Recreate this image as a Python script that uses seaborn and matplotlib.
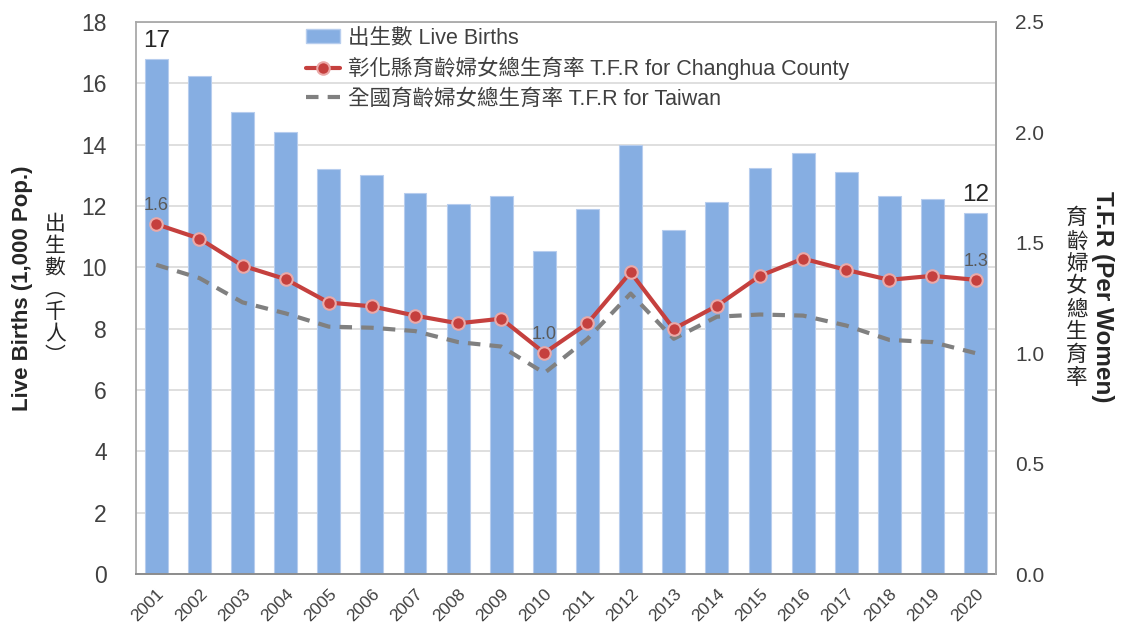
import numpy as np
import pandas as pd
import matplotlib.pyplot as plt
import seaborn as sns
from matplotlib.patches import Patch
from matplotlib.lines import Line2D

# Data
years = [str(y) for y in range(2001, 2021)]
births = [16.79, 16.24, 15.06, 14.41, 13.20, 13.01, 12.43, 12.06, 12.33, 10.53,
          11.90, 13.99, 11.22, 12.12, 13.24, 13.73, 13.10, 12.32, 12.24, 11.77]
tfr_changhua = [1.584, 1.519, 1.396, 1.335, 1.229, 1.212, 1.170, 1.135, 1.156, 1.001,
                1.135, 1.366, 1.110, 1.214, 1.350, 1.428, 1.377, 1.332, 1.350, 1.332]
tfr_taiwan = [1.40, 1.34, 1.23, 1.18, 1.12, 1.115, 1.10, 1.05, 1.03, 0.91,
              1.065, 1.27, 1.065, 1.165, 1.175, 1.17, 1.125, 1.06, 1.05, 1.00]
left_ticks = [0, 2, 4, 6, 8, 10, 12, 14, 16, 18]
right_ticks = [0.0, 0.5, 1.0, 1.5, 2.0, 2.5]

df = pd.DataFrame({"year": years, "births": births,
                   "chc": tfr_changhua, "tw": tfr_taiwan})
df["pos"] = np.arange(len(df))

sns.set_theme(style="white")
plt.rcParams["font.family"] = ["Liberation Sans", "Noto Sans CJK TC", "DejaVu Sans"]

bar_color = "#86AEE2"
red = "#C5403E"
gray = "#808080"
txt = "#404040"
spine = "#A6A6A6"

fig = plt.figure(figsize=(11.24, 6.25), dpi=100)
ax = fig.add_axes([0.121, 0.0816, 0.765, 0.8834])

sns.barplot(data=df, x="year", y="births", color=bar_color, saturation=1,
            width=0.53, edgecolor="#B7CDEE", linewidth=0.8, ax=ax)
ax.set_ylim(0, 18)
ax.set_yticks(left_ticks)
ax.yaxis.grid(True, color="#D9D9D9", linewidth=1.2)
ax.set_axisbelow(True)
ax.set_xlabel("")
ax.set_ylabel("")
ax.tick_params(axis="y", labelsize=16.5, labelcolor=txt, length=0, pad=21)
ax.tick_params(axis="x", labelsize=12.5, labelcolor=txt, length=0, pad=9)
plt.setp(ax.get_xticklabels(), rotation=45, ha="right", rotation_mode="anchor")
for s in ["left", "right", "top"]:
    ax.spines[s].set_color(spine)
ax.spines["bottom"].set_color("#8C8C8C")
ax.spines["bottom"].set_linewidth(1.4)

ax2 = ax.twinx()
sns.lineplot(data=df, x="pos", y="tw", color=gray, linewidth=3,
             linestyle=(0, (3, 2.2)), ax=ax2)
sns.lineplot(data=df, x="pos", y="chc", color=red, linewidth=3, marker="o",
             markersize=9, markerfacecolor=red, markeredgecolor="#EBA9A8",
             markeredgewidth=1.5, ax=ax2)
ax2.set_ylim(0, 2.5)
ax2.set_yticks(right_ticks)
ax2.set_yticklabels([f"{t:.1f}" for t in right_ticks])
ax2.set_xlabel("")
ax2.set_ylabel("")
ax2.tick_params(axis="y", labelsize=15, labelcolor=txt, length=0, pad=14)
ax2.spines["right"].set_color(spine)
for s in ["left", "top", "bottom"]:
    ax2.spines[s].set_visible(False)
ax.set_xlim(-0.47, len(df) - 0.53)

# Value labels
last = len(df) - 1
for i in [0, last]:
    ax.annotate(f"{df.births[i]:.0f}", (i, df.births[i]), xytext=(0, 5),
                textcoords="offset points", ha="center", va="bottom",
                fontsize=17.5, color="#262626")
for i in [0, 9, last]:
    ax2.annotate(f"{df.chc[i]:.1f}", (i, df.chc[i]), xytext=(0, 7),
                 textcoords="offset points", ha="center", va="bottom",
                 fontsize=13, color="#595959")

# Legend
handles = [
    Patch(facecolor=bar_color, edgecolor="#B7CDEE"),
    Line2D([], [], color=red, linewidth=3, marker="o", markersize=9,
           markerfacecolor=red, markeredgecolor="#EBA9A8", markeredgewidth=1.5),
    Line2D([], [], color=gray, linewidth=3, linestyle=(0, (3, 2.2))),
]
labels = ["出生數 Live Births",
          "彰化縣育齡婦女總生育率 T.F.R for Changhua County",
          "全國育齡婦女總生育率 T.F.R for Taiwan"]
leg = fig.legend(handles, labels, loc="upper left", bbox_to_anchor=(0.272, 0.956),
                 frameon=False, fontsize=15.5, handlelength=1.6, handleheight=0.6,
                 handletextpad=0.35, labelspacing=0.38, borderaxespad=0,
                 borderpad=0)
for t in leg.get_texts():
    t.set_color(txt)

# Axis titles
fig.text(0.0196, 0.539, "Live Births (1,000 Pop.)", rotation=90, ha="center",
         va="center", fontsize=16, fontweight="bold", color="#262626")
fig.text(0.049, 0.536, "\n".join("出生數︵千人︶"), ha="center", va="center",
         fontsize=15, linespacing=1.0, color="#262626", family="Noto Sans CJK TC")
fig.text(0.981, 0.525, "T.F.R (Per Women)", rotation=270, ha="center",
         va="center", fontsize=17.5, fontweight="bold", color="#262626")
fig.text(0.958, 0.523, "\n".join("育齡婦女總生育率"), ha="center", va="center",
         fontsize=15.5, linespacing=1.05, color="#262626", family="Noto Sans CJK TC")

fig.savefig("out.png", dpi=100)
plt.close(fig)
